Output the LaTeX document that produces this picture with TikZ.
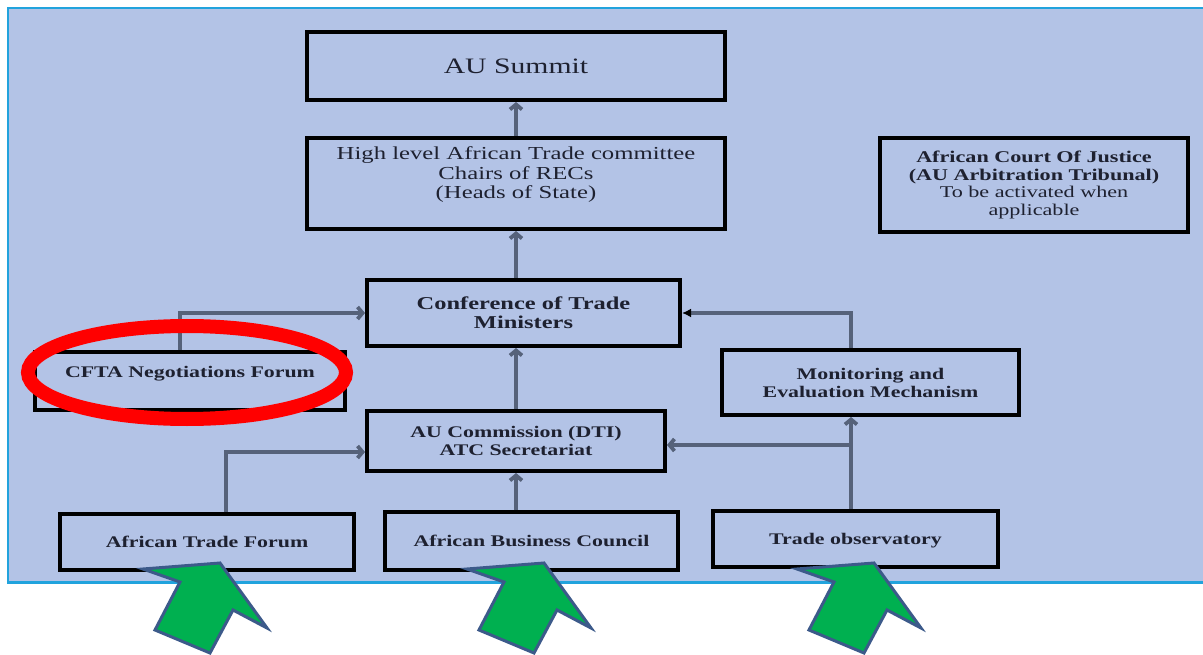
\documentclass[tikz,border=0pt]{standalone}
\usepackage{fontspec}
\setmainfont{Liberation Serif}[FakeStretch=1.35]
\usetikzlibrary{arrows.meta}
\definecolor{panel}{HTML}{B3C3E6}
\definecolor{panelborder}{HTML}{21A3DD}
\definecolor{linegray}{HTML}{56627A}
\definecolor{txt}{HTML}{1E2130}
\definecolor{agreen}{HTML}{00B050}
\definecolor{aborder}{HTML}{3C5A8A}
\begin{document}
\begin{tikzpicture}[x=1pt,y=-1pt,
  box/.style={draw=black, line width=4pt, text=txt, align=center, inner sep=0pt},
  plain/.style={text=txt, align=center, inner sep=0pt},
  bfont/.style={font=\bfseries\fontsize{16.2}{18}\selectfont},
  conn/.style={draw=linegray, line width=3.8pt, -{Straight Barb[length=5pt,width=12pt]}},
  connb/.style={draw=linegray, line width=3.8pt, -{Latex[length=9pt,width=9pt,color=black]}},
  garrowstyle/.style={fill=agreen, draw=aborder, line width=3pt, line join=miter},
  garrow/.pic={\draw[garrowstyle] (143,569) -- (220,563) -- (267,628) -- (233,610) -- (210,653) -- (155,630) -- (180,582) -- cycle;}
]
\useasboundingbox (0,0) rectangle (1203,655);
\begin{scope}
  \clip (0,0) rectangle (1203,655);
  \fill[white] (0,0) rectangle (1203,655);
  \draw[panelborder, line width=2.5pt, fill=panel] (8,8) rectangle (1215,582.5);
\end{scope}

% boxes
\node[box, minimum width=418pt, minimum height=68pt, font=\fontsize{22}{24}\selectfont] (summit) at (516,66) {AU Summit};
\node[box, minimum width=418pt, minimum height=91pt] (hlc) at (516,183.5) {};
\node[plain, font=\fontsize{18.3}{19.5}\selectfont] (hlct) at (516,175) {High level African Trade committee\\Chairs of RECs\\(Heads of State)};
\node[box, minimum width=308pt, minimum height=94pt, font=\fontsize{16.4}{17.6}\selectfont] (court) at (1034,185) {\bfseries African Court Of Justice\\\bfseries (AU Arbitration Tribunal)\\\mdseries To be activated when\\\mdseries applicable};
\node[box, minimum width=313pt, minimum height=66pt, font=\bfseries\fontsize{18.1}{19}\selectfont] (conf) at (523.5,313) {Conference of Trade\\Ministers};
\node[box, minimum width=310pt, minimum height=58pt] (cfta) at (190,381) {};
\node[plain, bfont] (cftat) at (190,374) {CFTA Negotiations Forum};
\node[box, bfont, minimum width=297pt, minimum height=65pt] (mem) at (870.5,382.5) {Monitoring and\\Evaluation Mechanism};
\node[box, bfont, minimum width=298pt, minimum height=60pt] (auc) at (516,441) {AU Commission (DTI)\\ATC Secretariat};
\node[box, bfont, minimum width=294pt, minimum height=56pt] (atf) at (207,542) {African Trade Forum};
\node[box, bfont, minimum width=293pt, minimum height=58pt] (abc) at (531.5,541) {African Business Council};
\node[box, bfont, minimum width=285pt, minimum height=56pt, text depth=0pt] (obs) at (855.5,539) {Trade observatory};

% connectors
\draw[conn] (hlc.north) -- (summit.south);
\draw[conn] (conf.north -| hlc.south) -- (hlc.south);
\draw[conn] (auc.north) -- (auc.north |- conf.south);
\draw[conn] (abc.north -| auc.south) -- (auc.south);
\draw[conn] ([xshift=-10pt]cfta.north) |- (conf.west);
\draw[conn] ([xshift=19pt]atf.north) |- ([yshift=-11pt]auc.west);
\draw[connb] ([xshift=-19.5pt]mem.north) |- (conf.east);
\coordinate (j) at (851,445);
\draw[conn] (obs.north -| j) -- (mem.south -| j);
\draw[conn] (j) -- (j -| auc.east);

% red ellipse
\draw[red, line width=14pt] (187,372.5) ellipse [x radius=159pt, y radius=46.5pt];

% green arrows
\pic at (0,0) {garrow};
\pic at (324,0) {garrow};
\pic at (654,0) {garrow};
\end{tikzpicture}
\end{document}
